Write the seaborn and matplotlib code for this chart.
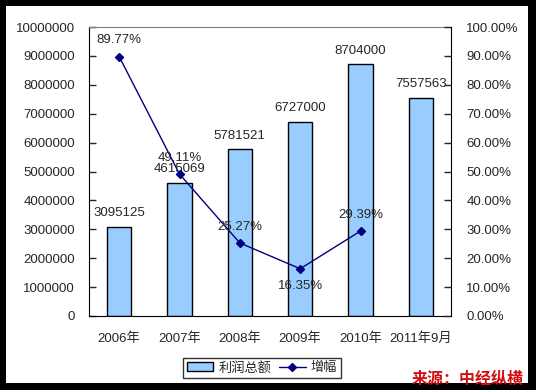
import matplotlib
matplotlib.use("Agg")
import matplotlib.pyplot as plt
import matplotlib.ticker as mticker
from matplotlib.patches import Rectangle
import pandas as pd
import seaborn as sns

# Data
years = ['2006年', '2007年', '2008年', '2009年', '2010年', '2011年9月']
profit = [3095125, 4615069, 5781521, 6727000, 8704000, 7557563]
growth_years = ['2006年', '2007年', '2008年', '2009年', '2010年']
growth = [0.8977, 0.4911, 0.2527, 0.1635, 0.2939]
growth_labels = ['89.77%', '49.11%', '25.27%', '16.35%', '29.39%']

sns.set_style('white')
plt.rcParams['font.family'] = ['Liberation Sans', 'Noto Sans CJK SC']
fs = 9.5

df = pd.DataFrame({'year': years, 'profit': profit})

fig = plt.figure(figsize=(5.36, 3.9), dpi=100, facecolor='black')
# white inner panel, the black frame stays round it
fig.add_artist(Rectangle((6 / 536, 7 / 390), 522 / 536, 377 / 390,
                         transform=fig.transFigure, facecolor='white',
                         edgecolor='none', zorder=0))

ax = fig.add_axes([89 / 536, 1 - 316 / 390, 362 / 536, 289 / 390])
ax.set_facecolor('white')
sns.barplot(data=df, x='year', y='profit', ax=ax, color='#99CCFF',
            edgecolor='black', linewidth=1, width=0.4, saturation=1)
ax.set_ylim(0, 10000000)
ax.set_yticks(range(0, 10000001, 1000000))
ax.yaxis.set_major_formatter(mticker.FuncFormatter(lambda v, p: f'{int(v)}'))
ax.set_xlabel('')
ax.set_ylabel('')
ax.set_xlim(-0.5, len(years) - 0.5)
ax.set_xticks([i + 0.5 for i in range(len(years) - 1)], minor=False)
ax.set_xticklabels([])
ax.set_xticks(range(len(years)), minor=True)
ax.set_xticklabels(years, minor=True)
ax.tick_params(axis='x', which='minor', length=0, pad=12, labelsize=fs)
ax.tick_params(axis='x', which='major', direction='in', length=5, width=1)
ax.tick_params(axis='y', direction='in', length=5, width=1, left=True,
               pad=10, labelsize=fs)
for s in ['left', 'bottom']:
    ax.spines[s].set_color('black')
ax.spines['top'].set_color('#808080')
ax.spines['right'].set_visible(False)

for i, v in enumerate(profit):
    ax.text(i, v + 250000, str(v), ha='center', va='bottom', fontsize=fs)

ax2 = ax.twinx()
ax2.plot(range(len(growth)), growth, color='#000080', lw=1,
         marker='D', ms=4.5, label='增幅')
ax2.set_ylim(0, 1)
ax2.set_yticks([i / 10 for i in range(11)])
ax2.yaxis.set_major_formatter(mticker.FuncFormatter(lambda v, p: f'{v * 100:.2f}%'))
ax2.tick_params(axis='y', direction='in', length=5, width=1, right=True,
                pad=11, labelsize=fs)
ax2.spines['right'].set_visible(True)
ax2.spines['right'].set_color('black')
ax2.spines['top'].set_visible(False)
ax2.spines['left'].set_visible(False)
ax2.spines['bottom'].set_visible(False)

for i, (v, t) in enumerate(zip(growth, growth_labels)):
    if i == 3:
        ax2.text(i, v - 0.04, t, ha='center', va='top', fontsize=fs)
    else:
        ax2.text(i, v + 0.035, t, ha='center', va='bottom', fontsize=fs)

bar_handle = Rectangle((0, 0), 1, 1, facecolor='#99CCFF', edgecolor='black', lw=1)
line_handle = ax2.get_lines()[0]
leg = fig.legend([bar_handle, line_handle], ['利润总额', '增幅'],
                 loc='center', bbox_to_anchor=(262 / 536, 1 - 368 / 390),
                 ncol=2, frameon=True, fancybox=False, fontsize=fs,
                 handlelength=2.0, handletextpad=0.4, columnspacing=0.6,
                 borderpad=0.3, borderaxespad=0)
leg.get_frame().set_edgecolor('black')
leg.get_frame().set_linewidth(1)

fig.text(468 / 536, 1 - 379 / 390, '来源：中经纵横', ha='center', va='center',
         color='#D01010', fontsize=11.5, fontweight='bold', style='italic',
         family=['Noto Sans CJK SC'])

fig.savefig('out.png', dpi=100, facecolor=fig.get_facecolor())
